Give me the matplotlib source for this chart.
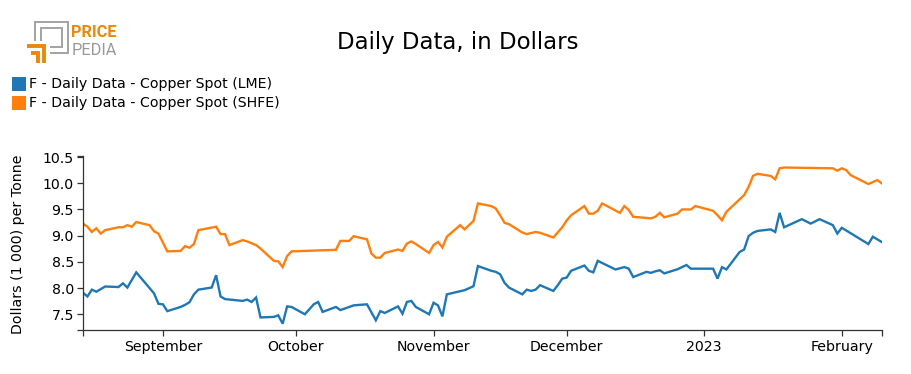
import matplotlib
matplotlib.use("Agg")
import matplotlib.pyplot as plt
import matplotlib.dates as mdates
from matplotlib.ticker import FuncFormatter, FixedLocator
from matplotlib.patches import Rectangle
import pandas as pd

# ---------------- data ----------------
title = "Daily Data, in Dollars"
y_label = "Dollars (1 000) per Tonne"
series_names = ["F - Daily Data - Copper Spot (LME)",
                "F - Daily Data - Copper Spot (SHFE)"]
series_colors = ["#1f77b4", "#ff7f0e"]

lme_dates = [
    "2022-08-14", "2022-08-15", "2022-08-16", "2022-08-17", "2022-08-18", "2022-08-19",
    "2022-08-22", "2022-08-23", "2022-08-24", "2022-08-26", "2022-08-30", "2022-08-31",
    "2022-09-01", "2022-09-02", "2022-09-05", "2022-09-06", "2022-09-07", "2022-09-08",
    "2022-09-09", "2022-09-12", "2022-09-13", "2022-09-14", "2022-09-15", "2022-09-19",
    "2022-09-20", "2022-09-21", "2022-09-22", "2022-09-23", "2022-09-26", "2022-09-27",
    "2022-09-28", "2022-09-29", "2022-09-30", "2022-10-03", "2022-10-05", "2022-10-06",
    "2022-10-07", "2022-10-10", "2022-10-11", "2022-10-14", "2022-10-17", "2022-10-19",
    "2022-10-20", "2022-10-21", "2022-10-24", "2022-10-25", "2022-10-26", "2022-10-27",
    "2022-10-28", "2022-10-31", "2022-11-01", "2022-11-02", "2022-11-03", "2022-11-04",
    "2022-11-08", "2022-11-10", "2022-11-11", "2022-11-14", "2022-11-15", "2022-11-16",
    "2022-11-17", "2022-11-18", "2022-11-21", "2022-11-22", "2022-11-23", "2022-11-24",
    "2022-11-25", "2022-11-28", "2022-11-29", "2022-11-30", "2022-12-01", "2022-12-02",
    "2022-12-05", "2022-12-06", "2022-12-07", "2022-12-08", "2022-12-12", "2022-12-14",
    "2022-12-15", "2022-12-16", "2022-12-19", "2022-12-20", "2022-12-21", "2022-12-22",
    "2022-12-23", "2022-12-26", "2022-12-28", "2022-12-29", "2023-01-03", "2023-01-04",
    "2023-01-05", "2023-01-06", "2023-01-09", "2023-01-10", "2023-01-11", "2023-01-12",
    "2023-01-13", "2023-01-16", "2023-01-17", "2023-01-18", "2023-01-19", "2023-01-23",
    "2023-01-25", "2023-01-27", "2023-01-30", "2023-01-31", "2023-02-01", "2023-02-07",
    "2023-02-08", "2023-02-10",
]
lme_values = [
    7.91, 7.84, 7.97, 7.93, 7.98, 8.03,
    8.02, 8.09, 8.01, 8.30, 7.90, 7.70,
    7.69, 7.56, 7.64, 7.68, 7.73, 7.88,
    7.97, 8.01, 8.245, 7.84, 7.79, 7.755,
    7.78, 7.735, 7.82, 7.44, 7.45, 7.48,
    7.32, 7.65, 7.64, 7.50, 7.69, 7.735,
    7.545, 7.64, 7.58, 7.67, 7.69, 7.385,
    7.56, 7.525, 7.65, 7.51, 7.735, 7.755,
    7.64, 7.50, 7.72, 7.67, 7.46, 7.88,
    7.96, 8.035, 8.42, 8.33, 8.31, 8.265,
    8.10, 8.01, 7.88, 7.97, 7.945, 7.97,
    8.055, 7.945, 8.055, 8.18, 8.20, 8.33,
    8.43, 8.33, 8.30, 8.52, 8.355, 8.40,
    8.37, 8.21, 8.31, 8.29, 8.32, 8.34,
    8.28, 8.36, 8.44, 8.37, 8.37, 8.18,
    8.40, 8.355, 8.69, 8.735, 8.99, 9.055,
    9.09, 9.12, 9.07, 9.435, 9.16, 9.315,
    9.23, 9.315, 9.20, 9.04, 9.15, 8.84,
    8.98, 8.88,
]

shfe_dates = [
    "2022-08-14", "2022-08-15", "2022-08-16", "2022-08-17", "2022-08-18", "2022-08-19",
    "2022-08-22", "2022-08-23", "2022-08-24", "2022-08-25", "2022-08-26", "2022-08-29",
    "2022-08-30", "2022-08-31", "2022-09-02", "2022-09-05", "2022-09-06", "2022-09-07",
    "2022-09-08", "2022-09-09", "2022-09-13", "2022-09-14", "2022-09-15", "2022-09-16",
    "2022-09-19", "2022-09-20", "2022-09-22", "2022-09-23", "2022-09-26", "2022-09-27",
    "2022-09-28", "2022-09-29", "2022-09-30", "2022-10-10", "2022-10-11", "2022-10-13",
    "2022-10-14", "2022-10-17", "2022-10-18", "2022-10-19", "2022-10-20", "2022-10-21",
    "2022-10-24", "2022-10-25", "2022-10-26", "2022-10-27", "2022-10-28", "2022-10-31",
    "2022-11-01", "2022-11-02", "2022-11-03", "2022-11-04", "2022-11-07", "2022-11-08",
    "2022-11-10", "2022-11-11", "2022-11-14", "2022-11-15", "2022-11-16", "2022-11-17",
    "2022-11-18", "2022-11-21", "2022-11-22", "2022-11-24", "2022-11-25", "2022-11-28",
    "2022-11-30", "2022-12-01", "2022-12-02", "2022-12-05", "2022-12-06", "2022-12-07",
    "2022-12-08", "2022-12-09", "2022-12-13", "2022-12-14", "2022-12-15", "2022-12-16",
    "2022-12-20", "2022-12-21", "2022-12-22", "2022-12-23", "2022-12-26", "2022-12-27",
    "2022-12-29", "2022-12-30", "2023-01-03", "2023-01-04", "2023-01-05", "2023-01-06",
    "2023-01-10", "2023-01-11", "2023-01-12", "2023-01-13", "2023-01-16", "2023-01-17",
    "2023-01-18", "2023-01-19", "2023-01-30", "2023-01-31", "2023-02-01", "2023-02-02",
    "2023-02-03", "2023-02-07", "2023-02-09", "2023-02-10",
]
shfe_values = [
    9.23, 9.17, 9.07, 9.14, 9.04, 9.105,
    9.16, 9.16, 9.20, 9.17, 9.26, 9.20,
    9.085, 9.04, 8.70, 8.71, 8.80, 8.77,
    8.84, 9.105, 9.17, 9.03, 9.03, 8.82,
    8.915, 8.89, 8.82, 8.755, 8.52, 8.51,
    8.40, 8.61, 8.70, 8.73, 8.90, 8.90,
    8.99, 8.93, 8.66, 8.58, 8.58, 8.67,
    8.735, 8.71, 8.85, 8.89, 8.84, 8.67,
    8.82, 8.88, 8.775, 8.98, 9.20, 9.12,
    9.28, 9.615, 9.565, 9.52, 9.39, 9.245,
    9.22, 9.06, 9.03, 9.07, 9.055, 8.965,
    9.16, 9.29, 9.39, 9.565, 9.42, 9.42,
    9.475, 9.615, 9.435, 9.565, 9.49, 9.36,
    9.33, 9.36, 9.435, 9.35, 9.42, 9.50,
    9.50, 9.565, 9.475, 9.39, 9.295, 9.455,
    9.775, 9.93, 10.14, 10.18, 10.14, 10.075,
    10.285, 10.30, 10.285, 10.24, 10.285, 10.25,
    10.155, 9.985, 10.06, 10.00,
]

y_ticks = [7.5, 8.0, 8.5, 9.0, 9.5, 10.0, 10.5]
month_labels = {1: "2023", 2: "February", 9: "September", 10: "October",
                11: "November", 12: "December"}

# ---------------- figure ----------------
W, H = 911, 374
fig = plt.figure(figsize=(W / 100, H / 100), dpi=100)
plt.rcParams["font.family"] = ["DejaVu Sans"]

ax_left, ax_right, ax_top, ax_bottom = 83, 881.7, 156, 330
ax = fig.add_axes([ax_left / W, 1 - ax_bottom / H,
                   (ax_right - ax_left) / W, (ax_bottom - ax_top) / H])

lme_x = pd.to_datetime(lme_dates)
shfe_x = pd.to_datetime(shfe_dates)
ax.plot(lme_x, lme_values, color=series_colors[0], lw=1.7, solid_joinstyle="miter")
ax.plot(shfe_x, shfe_values, color=series_colors[1], lw=1.7, solid_joinstyle="miter")

xmin = min(lme_x.min(), shfe_x.min())
xmax = max(lme_x.max(), shfe_x.max())
ax.set_xlim(xmin, xmax)
ax.set_ylim(7.2, 10.52)

for s in ["top", "right"]:
    ax.spines[s].set_visible(False)
for s in ["left", "bottom"]:
    ax.spines[s].set_color("#333333")
    ax.spines[s].set_linewidth(0.9)

ax.xaxis.set_major_locator(mdates.MonthLocator())
ax.xaxis.set_major_formatter(FuncFormatter(
    lambda v, p: month_labels.get(mdates.num2date(v).month, "")))
ax.xaxis.set_minor_locator(FixedLocator([mdates.date2num(xmin), mdates.date2num(xmax)]))
ax.yaxis.set_major_locator(FixedLocator(y_ticks))
ax.yaxis.set_major_formatter(FuncFormatter(lambda v, p: f"{v:.1f}"))
ax.yaxis.set_minor_locator(FixedLocator([7.2, 10.52]))

ax.tick_params(axis="both", which="both", length=4.5, width=0.9, color="#333333",
               labelsize=10.2, labelcolor="black")
ax.tick_params(axis="x", which="major", pad=2.5)
ax.tick_params(axis="y", which="major", pad=2)

fig.text(18 / W, 1 - 244 / H, y_label, rotation=90, ha="center", va="center",
         fontsize=10.2, color="black")

# title
fig.text(458 / W, 1 - 42 / H, title, ha="center", va="center", fontsize=16.5,
         color="black")

# overlay in pixel coordinates for legend + logo
ov = fig.add_axes([0, 0, 1, 1], zorder=-1)
ov.set_xlim(0, W)
ov.set_ylim(H, 0)
ov.axis("off")

# legend
ov.add_patch(Rectangle((12, 76.5), 14, 14, color=series_colors[0], lw=0))
ov.add_patch(Rectangle((12, 95.5), 14, 14, color=series_colors[1], lw=0))
ov.text(29, 84, series_names[0], ha="left", va="center", fontsize=10.2)
ov.text(29, 103, series_names[1], ha="left", va="center", fontsize=10.2)

# logo
gray = "#a3a3a3"
orange = "#e8890c"
ov.plot([35, 35, 68, 68, 50], [41, 22, 22, 53, 53], color=gray, lw=1.4,
        solid_joinstyle="miter", solid_capstyle="butt")
ov.plot([41, 41, 62, 62, 50], [41, 28, 28, 47, 47], color=gray, lw=1.4,
        solid_joinstyle="miter", solid_capstyle="butt")
ov.plot([27, 44, 44], [46, 46, 63], color=orange, lw=2.8,
        solid_joinstyle="miter", solid_capstyle="butt")
ov.plot([31, 38, 38], [53, 53, 63], color=orange, lw=2.8,
        solid_joinstyle="miter", solid_capstyle="butt")
ov.text(71.5, 36.5, "PRICE", ha="left", va="baseline", fontsize=11.8,
        family="Roboto", weight="bold", color=orange)
ov.text(71.5, 54.5, "PEDIA", ha="left", va="baseline", fontsize=11.8,
        family="Roboto", weight="normal", color="#999999")

fig.savefig("out.png", dpi=100)
